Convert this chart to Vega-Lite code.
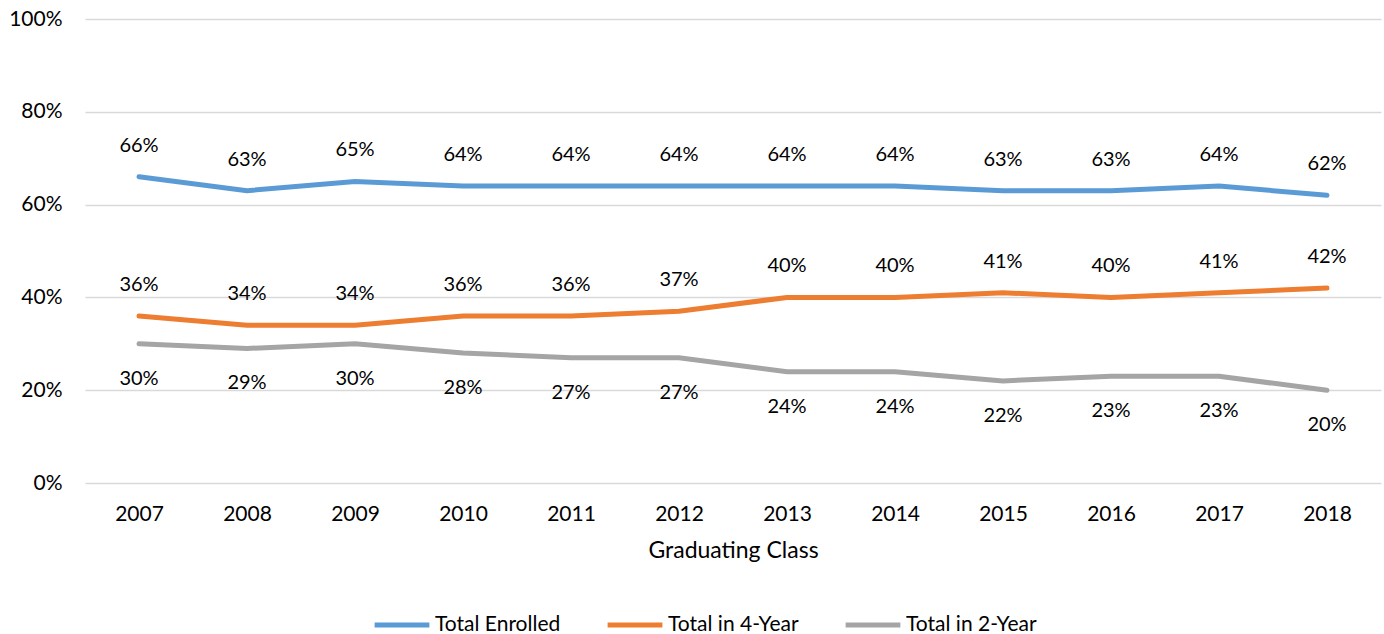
{
  "$schema": "https://vega.github.io/schema/vega-lite/v6.json",
  "width": 1296,
  "height": 464,
  "autosize": {"type": "none"},
  "padding": {"left": 85, "top": 19, "right": 3, "bottom": 151},
  "background": "white",
  "config": {
    "view": {"stroke": null},
    "font": "Lato",
    "text": {"font": "Lato"}
  },
  "data": {
    "values": [
      {"year": "2007", "series": "Total Enrolled", "value": 0.66},
      {"year": "2008", "series": "Total Enrolled", "value": 0.63},
      {"year": "2009", "series": "Total Enrolled", "value": 0.65},
      {"year": "2010", "series": "Total Enrolled", "value": 0.64},
      {"year": "2011", "series": "Total Enrolled", "value": 0.64},
      {"year": "2012", "series": "Total Enrolled", "value": 0.64},
      {"year": "2013", "series": "Total Enrolled", "value": 0.64},
      {"year": "2014", "series": "Total Enrolled", "value": 0.64},
      {"year": "2015", "series": "Total Enrolled", "value": 0.63},
      {"year": "2016", "series": "Total Enrolled", "value": 0.63},
      {"year": "2017", "series": "Total Enrolled", "value": 0.64},
      {"year": "2018", "series": "Total Enrolled", "value": 0.62},
      {"year": "2007", "series": "Total in 4-Year", "value": 0.36},
      {"year": "2008", "series": "Total in 4-Year", "value": 0.34},
      {"year": "2009", "series": "Total in 4-Year", "value": 0.34},
      {"year": "2010", "series": "Total in 4-Year", "value": 0.36},
      {"year": "2011", "series": "Total in 4-Year", "value": 0.36},
      {"year": "2012", "series": "Total in 4-Year", "value": 0.37},
      {"year": "2013", "series": "Total in 4-Year", "value": 0.40},
      {"year": "2014", "series": "Total in 4-Year", "value": 0.40},
      {"year": "2015", "series": "Total in 4-Year", "value": 0.41},
      {"year": "2016", "series": "Total in 4-Year", "value": 0.40},
      {"year": "2017", "series": "Total in 4-Year", "value": 0.41},
      {"year": "2018", "series": "Total in 4-Year", "value": 0.42},
      {"year": "2007", "series": "Total in 2-Year", "value": 0.30},
      {"year": "2008", "series": "Total in 2-Year", "value": 0.29},
      {"year": "2009", "series": "Total in 2-Year", "value": 0.30},
      {"year": "2010", "series": "Total in 2-Year", "value": 0.28},
      {"year": "2011", "series": "Total in 2-Year", "value": 0.27},
      {"year": "2012", "series": "Total in 2-Year", "value": 0.27},
      {"year": "2013", "series": "Total in 2-Year", "value": 0.24},
      {"year": "2014", "series": "Total in 2-Year", "value": 0.24},
      {"year": "2015", "series": "Total in 2-Year", "value": 0.22},
      {"year": "2016", "series": "Total in 2-Year", "value": 0.23},
      {"year": "2017", "series": "Total in 2-Year", "value": 0.23},
      {"year": "2018", "series": "Total in 2-Year", "value": 0.20}
    ]
  },
  "encoding": {
    "x": {
      "field": "year", "type": "ordinal",
      "scale": {"type": "point", "padding": 0.5},
      "axis": {
        "title": "Graduating Class", "titleFontSize": 23, "titleFont": "Lato", "titleFontWeight": "normal", "titleColor": "#000000", "titlePadding": 15,
        "labelAngle": 0, "labelFontSize": 21, "labelFont": "Lato", "labelColor": "#000000", "labelPadding": 20,
        "ticks": false, "domain": false, "grid": false
      }
    },
    "y": {
      "field": "value", "type": "quantitative",
      "scale": {"domain": [0, 1]},
      "axis": {
        "title": null, "format": ".0%", "values": [0, 0.2, 0.4, 0.6, 0.8, 1.0],
        "labelFontSize": 21, "labelFont": "Lato", "labelColor": "#000000", "labelPadding": 23,
        "ticks": false, "domain": false, "grid": true, "gridColor": "#D9D9D9", "gridWidth": 1.5
      }
    }
  },
  "layer": [
    {
      "mark": {"type": "line", "strokeWidth": 5, "strokeCap": "round"},
      "encoding": {
        "color": {
          "field": "series", "type": "nominal",
          "scale": {"domain": ["Total Enrolled", "Total in 4-Year", "Total in 2-Year"], "range": ["#5B9BD5", "#ED7D31", "#A5A5A5"]},
          "legend": {
            "title": null, "orient": "none", "direction": "horizontal", "legendX": 287, "legendY": 576,
            "symbolType": "stroke", "symbolSize": 3000, "symbolStrokeWidth": 5,
            "labelFontSize": 21, "labelFont": "Lato", "labelColor": "#000000", "labelOffset": 3, "columnPadding": 36
          }
        }
      }
    },
    {
      "transform": [{"filter": "datum.series !== 'Total in 2-Year'"}],
      "mark": {"type": "text", "dy": -31, "fontSize": 20, "font": "Lato", "color": "#000000"},
      "encoding": {"text": {"field": "value", "type": "quantitative", "format": ".0%"}}
    },
    {
      "transform": [{"filter": "datum.series === 'Total in 2-Year'"}],
      "mark": {"type": "text", "dy": 35, "fontSize": 20, "font": "Lato", "color": "#000000"},
      "encoding": {"text": {"field": "value", "type": "quantitative", "format": ".0%"}}
    }
  ]
}
